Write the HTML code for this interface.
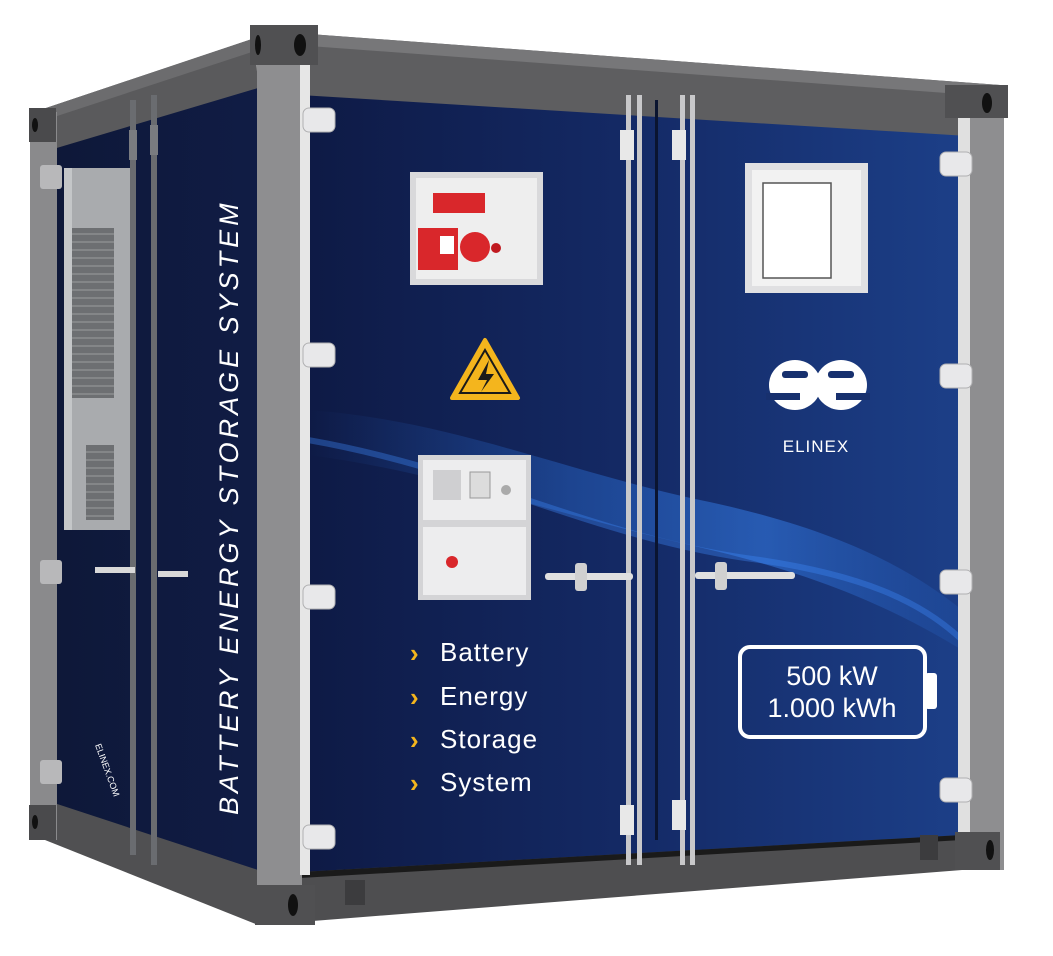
<!DOCTYPE html>
<html><head><meta charset="utf-8"><style>
html,body{margin:0;padding:0;background:#fff;}
svg{display:block;}
text{font-family:"Liberation Sans",sans-serif;}
</style></head><body>
<svg width="1053" height="956" viewBox="0 0 1053 956" xmlns="http://www.w3.org/2000/svg">
<defs>
<linearGradient id="fb" x1="0" y1="0" x2="1" y2="0">
<stop offset="0" stop-color="#0e1a45"/><stop offset="0.5" stop-color="#142a66"/><stop offset="1" stop-color="#1c3f88"/>
</linearGradient>
<linearGradient id="sb" x1="0" y1="0" x2="1" y2="0">
<stop offset="0" stop-color="#0e1838"/><stop offset="1" stop-color="#101c45"/>
</linearGradient>
<linearGradient id="wave" x1="0" y1="0" x2="1" y2="0">
<stop offset="0" stop-color="#2a6fd8" stop-opacity="0"/><stop offset="0.4" stop-color="#2f7ae8" stop-opacity="0.35"/><stop offset="0.7" stop-color="#3b8cff" stop-opacity="0.45"/><stop offset="1" stop-color="#2a6fd8" stop-opacity="0.15"/>
</linearGradient>
</defs>

<polygon points="50,145 258,85 258,875 50,805" fill="url(#sb)"/>
<polygon points="40,110 255,38 258,88 50,150" fill="#5a5a5c"/>
<polygon points="40,110 255,38 258,50 45,120" fill="#6c6c6e"/>
<polygon points="45,800 258,870 258,925 45,840" fill="#505052"/>
<rect x="30" y="112" width="27" height="728" fill="#8a8a8c"/>
<rect x="29" y="108" width="27" height="34" fill="#4a4a4c"/>
<ellipse cx="35" cy="125" rx="3" ry="7" fill="#111"/>
<rect x="29" y="805" width="27" height="35" fill="#4a4a4c"/>
<ellipse cx="35" cy="822" rx="3" ry="7" fill="#111"/>
<rect x="40" y="165" width="22" height="24" rx="3" fill="#b8b8ba"/>
<rect x="40" y="560" width="22" height="24" rx="3" fill="#b8b8ba"/>
<rect x="40" y="760" width="22" height="24" rx="3" fill="#b8b8ba"/>

<rect x="64" y="168" width="66" height="362" fill="#a9abae"/>
<rect x="64" y="168" width="8" height="362" fill="#c4c6c8"/>
<rect x="72" y="228" width="42" height="170" fill="#6d6f72"/>
<rect x="86" y="445" width="28" height="75" fill="#6d6f72"/>
<g stroke="#9a9c9f" stroke-width="1">
<path d="M72 234H114M72 242H114M72 250H114M72 258H114M72 266H114M72 274H114M72 282H114M72 290H114M72 298H114M72 306H114M72 314H114M72 322H114M72 330H114M72 338H114M72 346H114M72 354H114M72 362H114M72 370H114M72 378H114M72 386H114M72 394H114"/>
<path d="M86 452H114M86 460H114M86 468H114M86 476H114M86 484H114M86 492H114M86 500H114M86 508H114M86 516H114"/>
</g>

<rect x="130" y="100" width="6" height="755" fill="#6a6c70"/>
<rect x="151" y="95" width="6" height="770" fill="#6a6c70"/>
<rect x="129" y="130" width="8" height="30" fill="#7a7c80"/>
<rect x="150" y="125" width="8" height="30" fill="#7a7c80"/>
<rect x="95" y="567" width="40" height="6" fill="#d8d8d8"/>
<rect x="158" y="571" width="30" height="6" fill="#d8d8d8"/>

<text transform="translate(238,815) rotate(-90)" font-size="27" fill="#fff" font-style="italic" letter-spacing="4">BATTERY ENERGY STORAGE SYSTEM</text>
<text transform="translate(95,745) rotate(70)" font-size="9" fill="#fff">ELINEX.COM</text>

<polygon points="308,92 962,132 962,838 308,875" fill="url(#fb)"/>
<path d="M308,410 C450,420 560,470 700,500 C820,525 900,560 962,610 L962,650 C880,600 800,570 690,545 C560,515 430,470 308,455 Z" fill="url(#wave)"/>
<path d="M308,440 C480,470 600,540 760,560 C860,575 920,600 962,640" fill="none" stroke="#3f8dff" stroke-opacity="0.35" stroke-width="6"/>

<polygon points="255,30 1000,85 1000,138 300,95" fill="#5e5e60"/>
<polygon points="255,30 1000,85 1000,97 255,42" fill="#777779"/>
<polygon points="300,872 962,835 962,870 300,922" fill="#4e4e50"/>
<polygon points="300,872 962,835 962,840 300,878" fill="#1a1a1a"/>
<rect x="345" y="880" width="20" height="25" fill="#3c3c3e"/>
<rect x="920" y="835" width="18" height="25" fill="#3c3c3e"/>

<rect x="257" y="30" width="45" height="890" fill="#8e8e90"/>
<rect x="300" y="65" width="10" height="810" fill="#e6e6e6"/>
<rect x="250" y="25" width="68" height="40" fill="#505052"/>
<ellipse cx="300" cy="45" rx="6" ry="11" fill="#111"/>
<ellipse cx="258" cy="45" rx="3" ry="10" fill="#111"/>
<rect x="255" y="885" width="60" height="40" fill="#505052"/>
<ellipse cx="293" cy="905" rx="5" ry="11" fill="#111"/>
<rect x="962" y="90" width="42" height="780" fill="#8e8e90"/>
<rect x="958" y="118" width="12" height="720" fill="#e0e0e0"/>
<rect x="945" y="85" width="63" height="33" fill="#505052"/>
<ellipse cx="987" cy="103" rx="5" ry="10" fill="#111"/>
<rect x="955" y="832" width="45" height="38" fill="#505052"/>
<ellipse cx="990" cy="850" rx="4" ry="10" fill="#111"/>

<g fill="#e8e8ea" stroke="#b0b0b2" stroke-width="1">
<rect x="303" y="108" width="32" height="24" rx="6"/>
<rect x="303" y="343" width="32" height="24" rx="6"/>
<rect x="303" y="585" width="32" height="24" rx="6"/>
<rect x="303" y="825" width="32" height="24" rx="6"/>
<rect x="940" y="152" width="32" height="24" rx="6"/>
<rect x="940" y="364" width="32" height="24" rx="6"/>
<rect x="940" y="570" width="32" height="24" rx="6"/>
<rect x="940" y="778" width="32" height="24" rx="6"/>
</g>

<g fill="#c8c8ca">
<rect x="626" y="95" width="5" height="770"/>
<rect x="637" y="95" width="5" height="770"/>
<rect x="680" y="95" width="5" height="770"/>
<rect x="690" y="95" width="5" height="770"/>
</g>
<rect x="655" y="100" width="3" height="740" fill="#0a1430"/>
<g fill="#e8e8e8">
<rect x="620" y="130" width="14" height="30"/><rect x="672" y="130" width="14" height="30"/>
<rect x="620" y="805" width="14" height="30"/><rect x="672" y="800" width="14" height="30"/>
</g>
<rect x="545" y="573" width="88" height="7" rx="3" fill="#e0e0e0"/>
<rect x="575" y="563" width="12" height="28" rx="3" fill="#d0d0d0"/>
<rect x="695" y="572" width="100" height="7" rx="3" fill="#e0e0e0"/>
<rect x="715" y="562" width="12" height="28" rx="3" fill="#d0d0d0"/>

<rect x="410" y="172" width="133" height="113" fill="#d9d9db"/>
<rect x="416" y="178" width="121" height="101" fill="#eeeeee"/>
<rect x="433" y="193" width="52" height="20" fill="#d9272b"/>
<rect x="418" y="228" width="40" height="42" fill="#d9272b"/>
<rect x="440" y="236" width="14" height="18" fill="#fff"/>
<circle cx="475" cy="247" r="15" fill="#d9272b"/>
<circle cx="496" cy="248" r="5" fill="#c01a20"/>

<polygon points="485,340 518,398 452,398" fill="#f4b51d" stroke="#f4b51d" stroke-width="4" stroke-linejoin="round"/>
<polygon points="485,350 510,393 460,393" fill="#f4b51d" stroke="#1a1a1a" stroke-width="2"/>
<path d="M489,360 L478,380 L487,380 L481,392 L494,374 L486,374 Z" fill="#1a1a1a"/>

<rect x="418" y="455" width="113" height="145" fill="#d4d4d6"/>
<rect x="423" y="460" width="103" height="60" fill="#ededee"/>
<rect x="423" y="527" width="103" height="68" fill="#ededee"/>
<rect x="433" y="470" width="28" height="30" fill="#cfcfd1"/>
<rect x="470" y="472" width="20" height="26" fill="#dcdcdc" stroke="#999"/>
<circle cx="506" cy="490" r="5" fill="#aaa"/>
<circle cx="452" cy="562" r="6" fill="#d9272b"/>

<g fill="#f4b51d" font-size="26" font-weight="bold"><text x="410" y="662">›</text><text x="410" y="706">›</text><text x="410" y="749">›</text><text x="410" y="792">›</text></g>
<g fill="#fff" font-size="26" letter-spacing="1">
<text x="440" y="661">Battery</text><text x="440" y="705">Energy</text><text x="440" y="748">Storage</text><text x="440" y="791">System</text>
</g>

<rect x="745" y="163" width="123" height="130" fill="#e0e0e2"/>
<rect x="752" y="170" width="109" height="116" fill="#f2f2f2"/>
<rect x="763" y="183" width="68" height="95" fill="#fff" stroke="#555" stroke-width="1.5"/>

<!-- logo -->
<g fill="#fff">
<ellipse cx="795" cy="385" rx="26" ry="25"/>
<ellipse cx="841" cy="385" rx="26" ry="25"/>
</g>
<g fill="#17306e">
<rect x="782" y="371" width="26" height="7" rx="3"/>
<rect x="828" y="371" width="26" height="7" rx="3"/>
<rect x="766" y="393" width="34" height="7"/>
<rect x="836" y="393" width="34" height="7"/>
</g>
<text x="816" y="452" font-size="17" fill="#fff" text-anchor="middle" letter-spacing="1">ELINEX</text>

<rect x="740" y="647" width="185" height="90" rx="10" fill="none" stroke="#fff" stroke-width="4"/>
<rect x="925" y="673" width="12" height="36" rx="3" fill="#fff"/>
<text x="832" y="685" font-size="27" fill="#fff" text-anchor="middle">500 kW</text>
<text x="832" y="717" font-size="27" fill="#fff" text-anchor="middle">1.000 kWh</text>
</svg>
</body></html>
